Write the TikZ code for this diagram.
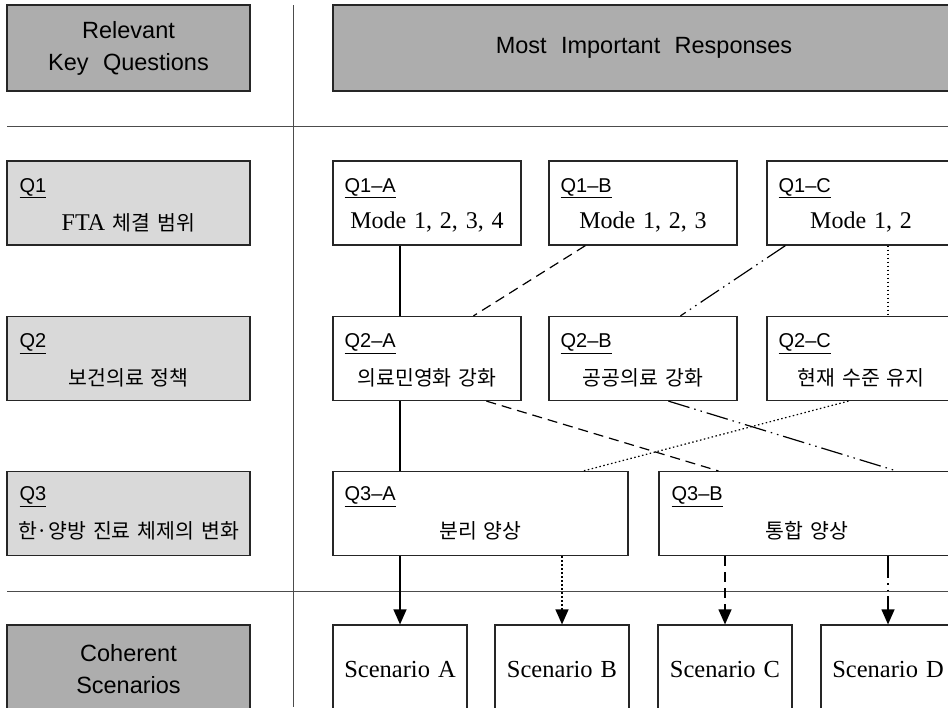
\documentclass[tikz,border=0pt]{standalone}
\usepackage{fontspec}
\setmainfont{Liberation Serif}[WordSpace=1.3]
\setsansfont{Liberation Sans}[WordSpace=2.2]
\newfontfamily\kr{Noto Sans CJK KR}[WordSpace=1.5]
\usetikzlibrary{arrows.meta}
\definecolor{darkcell}{RGB}{173,173,173}
\definecolor{lightcell}{RGB}{217,217,217}
\tikzset{
 cell/.style={draw=black!85,line width=1.2pt,inner sep=0pt},
 headcell/.style={cell,fill=darkcell,minimum width=243pt,minimum height=86pt,align=center,font=\sffamily\fontsize{23.5}{32}\selectfont},
 keycell/.style={cell,fill=lightcell,minimum width=243pt,minimum height=84pt},
 respcell/.style={cell,fill=white,minimum width=188pt,minimum height=84pt},
 scencell/.style={cell,fill=white,minimum width=134pt,minimum height=88pt,font=\fontsize{24.5}{27}\selectfont},
 tag/.style={anchor=west,inner sep=0pt,font=\sffamily\fontsize{20}{23}\selectfont},
 body/.style={font=\fontsize{24}{27}\selectfont},
 hbody/.style={font=\kr\fontsize{20.5}{24}\selectfont},
 link/.style={line width=1.2pt},
 lead/.style={link,-{Triangle[width=13pt,length=15pt]}},
 dashline/.style={dash pattern=on 10pt off 6pt},
 dotline/.style={dash pattern=on 1.5pt off 2.5pt},
 dotsline/.style={dash pattern=on 22pt off 5pt on 1.5pt off 5pt on 1.5pt off 5pt},
 rule/.style={line width=1pt,draw=black!70}
}
\begin{document}
\begin{tikzpicture}[x=1pt,y=-1pt]
\useasboundingbox(0,0)rectangle(948,707);
\clip(0,0)rectangle(948,707);
\draw[rule](293,5)--(293,707);
\draw[rule](7,126)--(948,126);
\draw[rule](7,591)--(948,591);
\node[headcell](kq)at(128.5,48){Relevant\\Key Questions};
\node[headcell,minimum width=622pt](mir)at(644,48){Most Important Responses};
\node[headcell,minimum height=88pt](cs)at(128.5,669){Coherent\\Scenarios};
\node[keycell](q1)at(128.5,203){};
\node[keycell](q2)at(128.5,358.5){};
\node[keycell](q3)at(128.5,513.5){};
\node[tag]at([xshift=13pt,yshift=-28pt]q1.north west){\underline{Q1}};
\node[tag]at([xshift=13pt,yshift=-28pt]q2.north west){\underline{Q2}};
\node[tag]at([xshift=13pt,yshift=-26pt]q3.north west){\underline{Q3}};
\node[body]at([yshift=-62pt]q1.north){FTA {\kr\fontsize{20.5}{24}\selectfont 체결 범위}};
\node[hbody]at([yshift=-62pt]q2.north){보건의료 정책};
\node[hbody]at([yshift=-60pt]q3.north){한·양방 진료 체제의 변화};
\node[respcell](q1a)at(427,203){};
\node[respcell](q1b)at(643,203){};
\node[respcell](q1c)at(861,203){};
\node[respcell](q2a)at(427,358.5){};
\node[respcell](q2b)at(643,358.5){};
\node[respcell](q2c)at(861,358.5){};
\node[respcell,minimum width=295pt](q3a)at(480.5,513.5){};
\node[respcell,minimum width=296pt](q3b)at(807,513.5){};
\node[tag]at([xshift=12pt,yshift=-28pt]q1a.north west){\underline{Q1--A}};
\node[tag]at([xshift=12pt,yshift=-28pt]q1b.north west){\underline{Q1--B}};
\node[tag]at([xshift=12pt,yshift=-28pt]q1c.north west){\underline{Q1--C}};
\node[tag]at([xshift=12pt,yshift=-28pt]q2a.north west){\underline{Q2--A}};
\node[tag]at([xshift=12pt,yshift=-28pt]q2b.north west){\underline{Q2--B}};
\node[tag]at([xshift=12pt,yshift=-28pt]q2c.north west){\underline{Q2--C}};
\node[tag]at([xshift=12pt,yshift=-26pt]q3a.north west){\underline{Q3--A}};
\node[tag]at([xshift=13pt,yshift=-26pt]q3b.north west){\underline{Q3--B}};
\node[body]at([yshift=-62pt]q1a.north){Mode 1, 2, 3, 4};
\node[body]at([yshift=-62pt]q1b.north){Mode 1, 2, 3};
\node[body]at([yshift=-62pt]q1c.north){Mode 1, 2};
\node[hbody]at([yshift=-62pt]q2a.north){의료민영화 강화};
\node[hbody]at([yshift=-62pt]q2b.north){공공의료 강화};
\node[hbody]at([yshift=-62pt]q2c.north){현재 수준 유지};
\node[hbody]at([yshift=-60pt]q3a.north){분리 양상};
\node[hbody]at([yshift=-60pt]q3b.north){통합 양상};
\node[scencell](sa)at(400,669){Scenario A};
\node[scencell](sb)at(562,669){Scenario B};
\node[scencell](sc)at(725,669){Scenario C};
\node[scencell](sd)at(888,669){Scenario D};
\draw[link](sa.north|-q1a.south)--(sa.north|-q2a.north);
\draw[link,dashline]([xshift=37pt]q1b.south west)--([xshift=141pt]q2a.north west);
\draw[link,dotsline]([xshift=19pt]q1c.south west)--([xshift=132pt]q2b.north west);
\draw[link,dotline](sd.north|-q1c.south)--(sd.north|-q2c.north);
\draw[link](sa.north|-q2a.south)--(sa.north|-q3a.north);
\draw[link,dashline]([xshift=154pt]q2a.south west)--([xshift=60pt]q3b.north west);
\draw[link,dotsline]([xshift=120pt]q2b.south west)--([xshift=238pt]q3b.north west);
\draw[link,dotline]([xshift=82pt]q2c.south west)--([xshift=251pt]q3a.north west);
\draw[lead](sa.north|-q3a.south)--(sa.north);
\draw[lead,dotline](sb.north|-q3a.south)--(sb.north);
\draw[lead,dashline](sc.north|-q3b.south)--(sc.north);
\draw[lead,dotsline](sd.north|-q3b.south)--(sd.north);
\end{tikzpicture}
\end{document}
